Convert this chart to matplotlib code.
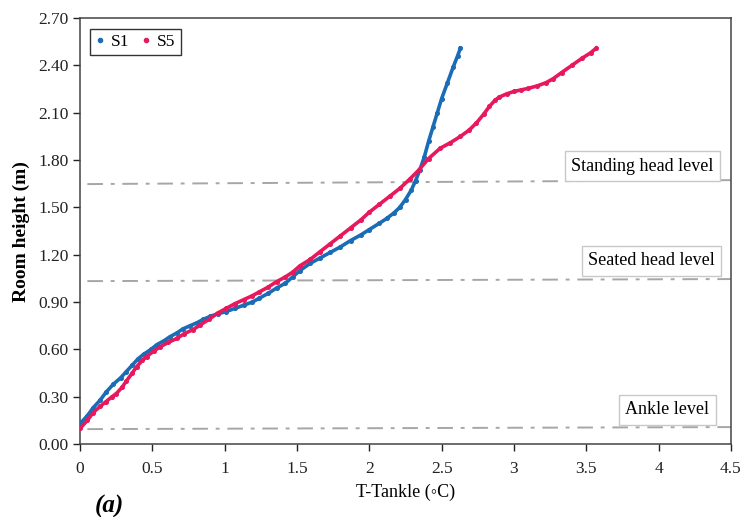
import matplotlib
matplotlib.use('Agg')
import matplotlib.pyplot as plt
from matplotlib.lines import Line2D

plt.rcParams['font.family'] = ['Liberation Serif', 'DejaVu Serif']

# S1 profile
s1_dt = [0, 0.05, 0.09, 0.14, 0.18, 0.23, 0.28, 0.32, 0.36, 0.40, 0.44, 0.49,
         0.53, 0.58, 0.62, 0.67, 0.71, 0.76, 0.81, 0.85, 0.90, 0.95, 1.01, 1.07,
         1.13, 1.19, 1.24, 1.30, 1.36, 1.42, 1.47, 1.52, 1.59, 1.66, 1.73, 1.80,
         1.87, 1.94, 2.00, 2.07, 2.12, 2.17, 2.21, 2.25, 2.29, 2.32, 2.35, 2.38,
         2.41, 2.44, 2.47, 2.50, 2.54, 2.58, 2.61, 2.63]
s1_h = [0.13, 0.18, 0.23, 0.28, 0.33, 0.38, 0.42, 0.46, 0.50, 0.54, 0.57, 0.60,
        0.63, 0.655, 0.68, 0.705, 0.73, 0.75, 0.77, 0.79, 0.81, 0.825, 0.84, 0.86,
        0.88, 0.90, 0.925, 0.955, 0.99, 1.02, 1.06, 1.10, 1.145, 1.18, 1.215, 1.25,
        1.29, 1.325, 1.36, 1.40, 1.43, 1.465, 1.50, 1.55, 1.61, 1.67, 1.74, 1.82,
        1.92, 2.01, 2.10, 2.19, 2.29, 2.39, 2.46, 2.51]

# S5 profile
s5_dt = [0, 0.05, 0.09, 0.14, 0.18, 0.22, 0.25, 0.29, 0.32, 0.36, 0.39, 0.43,
         0.46, 0.51, 0.55, 0.61, 0.67, 0.72, 0.78, 0.83, 0.89, 0.95, 1.01, 1.07,
         1.13, 1.19, 1.24, 1.30, 1.36, 1.42, 1.47, 1.52, 1.59, 1.66, 1.73, 1.80,
         1.87, 1.94, 2.00, 2.07, 2.14, 2.21, 2.28, 2.34, 2.41, 2.49, 2.56, 2.63,
         2.69, 2.74, 2.79, 2.83, 2.87, 2.90, 2.95, 3.00, 3.05, 3.10, 3.16, 3.22,
         3.27, 3.33, 3.40, 3.47, 3.53, 3.57]
s5_h = [0.10, 0.15, 0.20, 0.24, 0.27, 0.30, 0.32, 0.36, 0.40, 0.45, 0.49, 0.53,
        0.555, 0.59, 0.615, 0.645, 0.67, 0.70, 0.725, 0.755, 0.79, 0.83, 0.86, 0.89,
        0.915, 0.94, 0.965, 0.995, 1.03, 1.06, 1.09, 1.13, 1.17, 1.22, 1.27, 1.32,
        1.37, 1.42, 1.47, 1.52, 1.57, 1.62, 1.68, 1.735, 1.81, 1.875, 1.91, 1.95,
        1.99, 2.035, 2.09, 2.14, 2.18, 2.20, 2.22, 2.235, 2.245, 2.255, 2.27, 2.29,
        2.315, 2.355, 2.40, 2.445, 2.48, 2.51]

# reference levels
levels = ['Standing head level', 'Seated head level', 'Ankle level']
level_x = [0.05, 4.5]
level_h = [(1.648, 1.673), (1.033, 1.046), (0.095, 0.108)]
label_pos = [(3.89, 1.762), (3.95, 1.162), (4.06, 0.218)]

xticks = [0, 0.5, 1, 1.5, 2, 2.5, 3, 3.5, 4, 4.5]
xticklabels = ['0', '0.5', '1', '1.5', '2', '2.5', '3', '3.5', '4', '4.5']
yticks = [0.0, 0.3, 0.6, 0.9, 1.2, 1.5, 1.8, 2.1, 2.4, 2.7]

blue = '#1b6cb6'
red = '#e8185c'

fig = plt.figure(figsize=(7.42, 5.17), dpi=100)
ax = fig.add_axes([0.108, 0.141, 0.877, 0.824])

for h in level_h:
    ax.plot(level_x, h, color='#a6a6a6', lw=1.4, dashes=(8, 4, 2, 4), zorder=1)

for (tx, ty), lab in zip(label_pos, levels):
    ax.text(tx, ty, lab, ha='center', va='center', fontsize=13,
            bbox=dict(boxstyle='square,pad=0.35', fc='white', ec='#c8c8c8', lw=1))

ax.plot(s1_dt, s1_h, color=blue, lw=2.6, marker='o', ms=2.6, zorder=3)
ax.plot(s5_dt, s5_h, color=red, lw=2.6, marker='o', ms=2.6, zorder=3)

ax.set_xlim(0, 4.5)
ax.set_ylim(0, 2.7)
ax.set_xticks(xticks)
ax.set_xticklabels(xticklabels)
ax.set_yticks(yticks)
ax.set_yticklabels(['%.2f' % v for v in yticks])
ax.tick_params(direction='out', length=5, width=1, labelsize=12.5, colors='#222222')
ax.tick_params(axis='x', pad=7)
for sp in ax.spines.values():
    sp.set_color('#444444')
    sp.set_linewidth(1.1)

ax.set_xlabel('T-Tankle (\u25e6C)', fontsize=13, labelpad=5)
ax.set_ylabel('Room height (m)', fontsize=14, fontweight='bold', labelpad=6)

handles = [Line2D([], [], color=blue, marker='o', ms=3, ls='none'),
           Line2D([], [], color=red, marker='o', ms=3, ls='none')]
leg = ax.legend(handles, ['S1', 'S5'], loc='upper left', ncol=2, fontsize=12.5,
                frameon=True, fancybox=False, edgecolor='black',
                handlelength=0.5, handletextpad=0.4, columnspacing=0.7,
                bbox_to_anchor=(0.002, 0.995), borderpad=0.3)
leg.get_frame().set_linewidth(1.0)

fig.text(0.128, 0.008, '(a)', fontsize=18, fontweight='bold', fontstyle='italic')

fig.savefig('out.png', dpi=100)
